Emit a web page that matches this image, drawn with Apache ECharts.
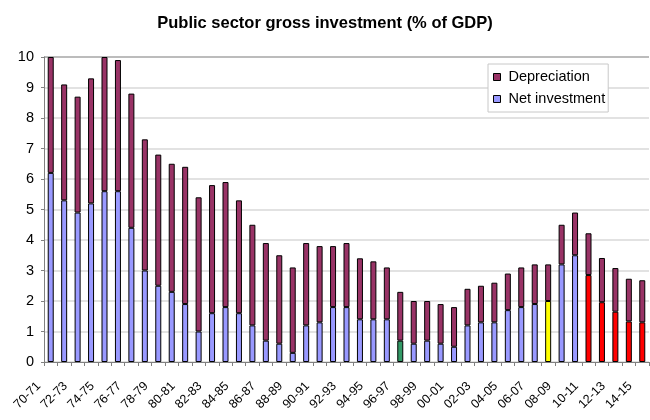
<!DOCTYPE html>
<html>
<head>
<meta charset="utf-8">
<script src="https://cdn.jsdelivr.net/npm/echarts@6/dist/echarts.min.js"></script>
<style>
  html, body { margin: 0; padding: 0; background: #fff; }
  #chart { width: 650px; height: 420px; }
</style>
</head>
<body>
<div id="chart"></div>
<script>
// Financial years 1970-71 to 2014-15
const years = [
  '70-71','71-72','72-73','73-74','74-75','75-76','76-77','77-78','78-79','79-80',
  '80-81','81-82','82-83','83-84','84-85','85-86','86-87','87-88','88-89','89-90',
  '90-91','91-92','92-93','93-94','94-95','95-96','96-97','97-98','98-99','99-00',
  '00-01','01-02','02-03','03-04','04-05','05-06','06-07','07-08','08-09','09-10',
  '10-11','11-12','12-13','13-14','14-15'
];

// Net investment, % of GDP
const netInvestment = [
  6.2, 5.3, 4.9, 5.2, 5.6, 5.6, 4.4, 3.0, 2.5, 2.3,
  1.9, 1.0, 1.6, 1.8, 1.6, 1.2, 0.7, 0.6, 0.3, 1.2,
  1.3, 1.8, 1.8, 1.4, 1.4, 1.4, 0.7, 0.6, 0.7, 0.6,
  0.5, 1.2, 1.3, 1.3, 1.7, 1.8, 1.9, 2.0, 3.2, 3.5,
  2.85, 1.96, 1.65, 1.33, 1.3
];

// Depreciation, % of GDP
const depreciation = [
  3.8, 3.8, 3.8, 4.1, 4.4, 4.3, 4.4, 4.3, 4.3, 4.2,
  4.5, 4.4, 4.2, 4.1, 3.7, 3.3, 3.2, 2.9, 2.8, 2.7,
  2.5, 2.0, 2.1, 2.0, 1.9, 1.7, 1.6, 1.4, 1.3, 1.3,
  1.3, 1.2, 1.2, 1.3, 1.2, 1.3, 1.3, 1.2, 1.3, 1.4,
  1.37, 1.45, 1.43, 1.4, 1.38
];

// Highlighted years for the net investment bars
const highlightGreen = ['96-97'];
const highlightYellow = ['07-08'];
const highlightRed = ['10-11','11-12','12-13','13-14','14-15'];

const NET_COLOR = '#9999ff';
const DEP_COLOR = '#993366';

function netColor(year) {
  if (highlightGreen.includes(year)) return '#339966';
  if (highlightYellow.includes(year)) return '#ffff00';
  if (highlightRed.includes(year)) return '#ff0000';
  return NET_COLOR;
}

// Light gridlines, with a darker line closing the top of the plot
const gridColors = ['#d9d9d9','#d9d9d9','#d9d9d9','#d9d9d9','#d9d9d9','#d9d9d9',
                    '#d9d9d9','#d9d9d9','#d9d9d9','#d9d9d9','#a6a6a6'];

const chart = echarts.init(document.getElementById('chart'), null, { renderer: 'canvas' });
const font = '"Liberation Sans", Arial, sans-serif';

chart.setOption({
  animation: false,
  backgroundColor: '#ffffff',
  textStyle: { fontFamily: font },
  title: {
    text: 'Public sector gross investment (% of GDP)',
    left: 'center',
    top: 10,
    textStyle: { fontFamily: font, fontSize: 16.5, fontWeight: 'bold', color: '#000' }
  },
  legend: {
    orient: 'vertical',
    left: 488,
    top: 64,
    padding: [5, 3, 5, 5],
    itemGap: 6,
    itemWidth: 7,
    itemHeight: 7,
    icon: 'rect',
    borderColor: '#c8c8c8',
    borderWidth: 1,
    backgroundColor: '#fff',
    data: ['Depreciation', 'Net investment'],
    itemStyle: { borderColor: '#000', borderWidth: 1 },
    textStyle: { fontFamily: font, fontSize: 14.5, lineHeight: 16, color: '#000', padding: [0, 0, 0, 3] }
  },
  grid: { left: 44, right: 1, top: 57, bottom: 58, containLabel: false },
  xAxis: {
    type: 'category',
    data: years,
    boundaryGap: true,
    axisLine: { lineStyle: { color: '#808080', width: 1 } },
    axisTick: { show: true, alignWithLabel: false, interval: 0, length: 4, lineStyle: { color: '#808080' } },
    axisLabel: {
      interval: 1,
      rotate: 45,
      margin: 10,
      padding: [0, 17, 0, 0],
      fontFamily: font,
      fontSize: 12.5,
      color: '#000'
    }
  },
  yAxis: {
    type: 'value',
    min: 0,
    max: 10,
    interval: 1,
    axisLine: { show: true, lineStyle: { color: '#808080' } },
    axisTick: { show: true, length: 3, lineStyle: { color: '#808080' } },
    splitLine: { lineStyle: { color: gridColors, width: 1.5 } },
    axisLabel: { fontFamily: font, fontSize: 14.5, color: '#000', margin: 10 }
  },
  series: [
    {
      name: 'Net investment',
      type: 'bar',
      stack: 'gross',
      barWidth: 6,
      itemStyle: { color: NET_COLOR, borderColor: '#000', borderWidth: 1 },
      data: netInvestment.map((v, i) => ({
        value: v,
        itemStyle: { color: netColor(years[i]) }
      }))
    },
    {
      name: 'Depreciation',
      type: 'bar',
      stack: 'gross',
      barWidth: 6,
      itemStyle: { color: DEP_COLOR, borderColor: '#000', borderWidth: 1 },
      data: depreciation
    }
  ]
});
</script>
</body>
</html>
